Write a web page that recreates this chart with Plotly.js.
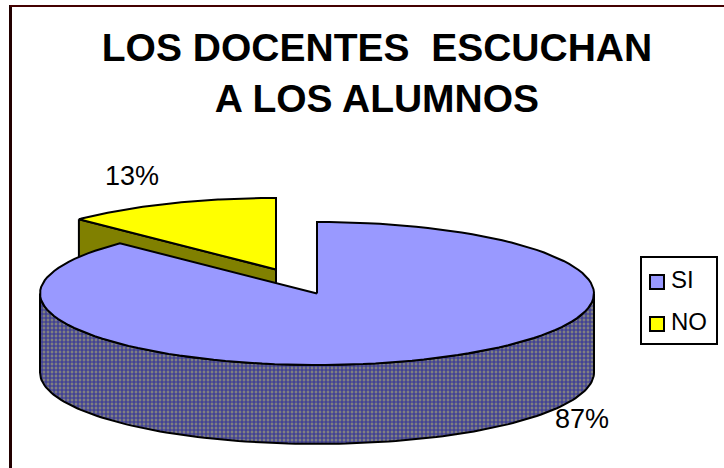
<!DOCTYPE html>
<html><head><meta charset="utf-8">
<script src="https://cdn.plot.ly/plotly-3.0.1.min.js"></script>
<style>html,body{margin:0;padding:0;background:#fff}#c{width:724px;height:468px}</style>
</head><body><div id="c"></div>
<script>
var categories = ['SI', 'NO'];
var values = [87.4, 12.6];
var colors = ['#9999ff', '#ffff00'];
var sideColors = ['#333399', '#808000'];
var titleLines = ['LOS DOCENTES  ESCUCHAN', 'A LOS ALUMNOS'];

var W = 724, H = 468;
var cx = 317, cy = 293.5, rx = 277, ry = 71.5, depth = 79;
var noExplode = [-41, -24];
var legendBox = { x0: 641, x1: 717, y0: 257, y1: 344 };
var legendY = [282, 324], legendSwatchX = 657, legendTextX = 672;

var total = values[0] + values[1];
var siEnd = values[0] / total * 2 * Math.PI;

function pt(a, dx, dy, d) {
  return [cx + dx + rx * Math.sin(a), cy + dy - ry * Math.cos(a) + (d || 0)];
}
function arc(a0, a1, dx, dy, d) {
  var out = [], n = 120;
  for (var i = 0; i <= n; i++) out.push(pt(a0 + (a1 - a0) * i / n, dx, dy, d));
  return out;
}
function poly(points, fill, pattern) {
  var xs = points.map(function (p) { return p[0]; });
  var ys = points.map(function (p) { return p[1]; });
  xs.push(xs[0]); ys.push(ys[0]);
  var t = { type: 'scatter', mode: 'lines', x: xs, y: ys, fill: 'toself', fillcolor: fill,
    line: { color: '#000', width: 2 }, showlegend: false, hoverinfo: 'skip' };
  if (pattern) t.fillpattern = pattern;
  return t;
}

var dx = noExplode[0], dy = noExplode[1];
var apexNo = [cx + dx, cy + dy];
var noEdge = pt(siEnd, dx, dy);
var noFace = poly([noEdge, apexNo, [apexNo[0], apexNo[1] + depth], [noEdge[0], noEdge[1] + depth]], sideColors[1]);
var noTop = poly([apexNo].concat(arc(siEnd, 2 * Math.PI, dx, dy)), colors[1]);
var siSide = poly(arc(Math.PI / 2, 3 * Math.PI / 2, 0, 0).concat(arc(3 * Math.PI / 2, Math.PI / 2, 0, 0, depth)),
  '#5a5a8c', { shape: '+', size: 4, solidity: 0.5, fgcolor: sideColors[0], bgcolor: '#808080', fillmode: 'replace' });
var siTop = poly([[cx, cy]].concat(arc(0, siEnd, 0, 0)), colors[0]);

var legendMarks = categories.map(function (c, i) {
  return { type: 'scatter', mode: 'markers', x: [legendSwatchX], y: [legendY[i]], name: c, showlegend: false, hoverinfo: 'skip',
    marker: { symbol: 'square', size: 14, color: colors[i], line: { color: '#000', width: 2 } } };
});
var legendTexts = categories.map(function (c, i) {
  return { x: legendTextX, y: legendY[i] - 3, text: c, xanchor: 'left', showarrow: false, font: { size: 24 }, xshift: -3 };
});

var layout = {
  width: W, height: H, margin: { l: 0, r: 0, t: 0, b: 0 },
  paper_bgcolor: '#fff', plot_bgcolor: '#fff', showlegend: false,
  xaxis: { range: [0, W], visible: false, fixedrange: true },
  yaxis: { range: [H, 0], visible: false, fixedrange: true },
  font: { family: '"Liberation Sans", Arial, sans-serif', color: '#000' },
  title: { text: titleLines.join('<br>'), font: { size: 39, family: '"Liberation Sans", Arial, sans-serif', weight: 700, color: '#000' },
    x: 377 / W, xanchor: 'center', y: 1 - 61 / H, yanchor: 'middle', automargin: false },
  shapes: [
    { type: 'line', x0: 10.5, x1: 10.5, y0: 5, y1: 468, line: { color: '#200', width: 3 } },
    { type: 'line', x0: 10, x1: 724, y0: 6, y1: 6, line: { color: '#400', width: 2 } },
    { type: 'rect', x0: legendBox.x0, x1: legendBox.x1, y0: legendBox.y0, y1: legendBox.y1, line: { color: '#000', width: 2 }, layer: 'below' }
  ],
  annotations: [
    { x: 132, y: 176, text: Math.round(values[1]) + '%', showarrow: false, font: { size: 27 } },
    { x: 582, y: 419, text: Math.round(values[0]) + '%', showarrow: false, font: { size: 27 } }
  ].concat(legendTexts)
};
Plotly.newPlot('c', [noFace, noTop, siSide, siTop].concat(legendMarks), layout, { displayModeBar: false });
</script></body></html>
